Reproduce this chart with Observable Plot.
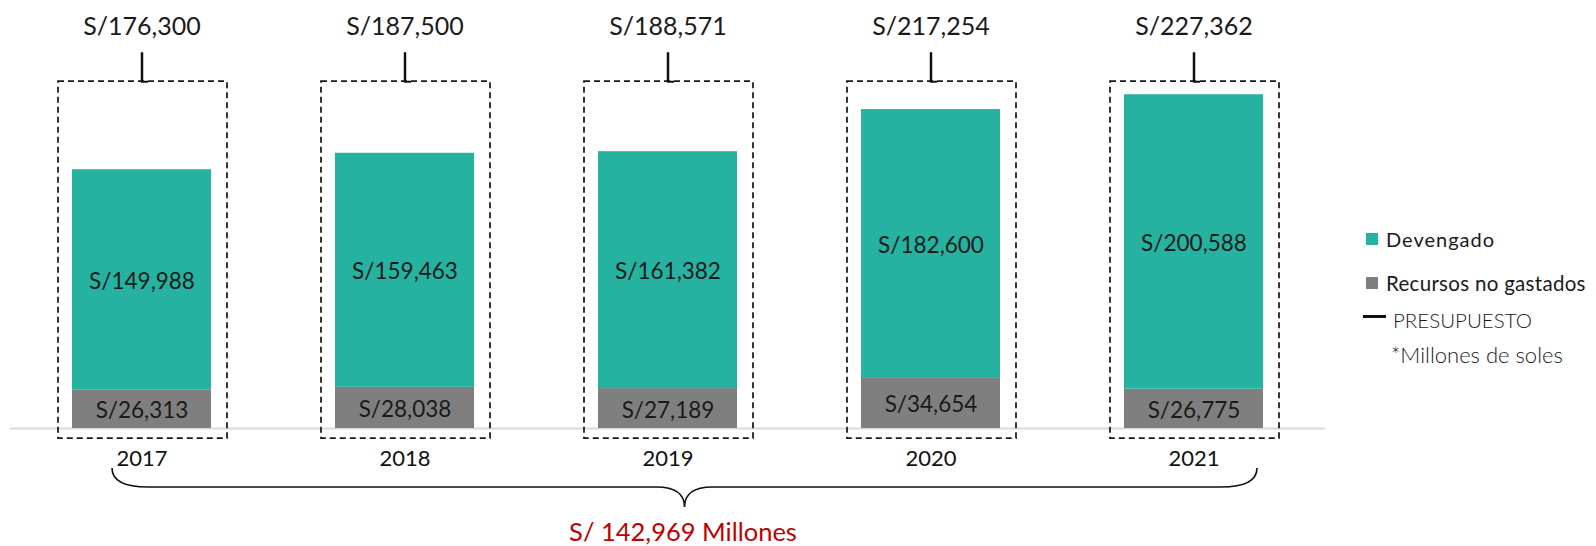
<!DOCTYPE html>
<html><head><meta charset="utf-8">
<script src="https://cdn.jsdelivr.net/npm/d3@7"></script>
<script src="https://cdn.jsdelivr.net/npm/@observablehq/plot@0.6"></script>
<style>
body{margin:0;background:#fff;}
#wrap{position:relative;width:1596px;height:546px;font-family:Lato,"Open Sans",sans-serif;color:#1a1a1a;}
.sw{position:absolute;width:12px;height:12px;}
.lt{position:absolute;white-space:nowrap;line-height:1;transform:translateY(-50%);}
</style></head><body><div id="wrap"></div>
<script>
const years = ["2017","2018","2019","2020","2021"];
const devengado = [149988,159463,161382,182600,200588];
const noGastado = [26313,28038,27189,34654,26775];
const presupuesto = [176300,187500,188571,217254,227362];
const seriesNames = ["Devengado","Recursos no gastados"];
const seriesColors = ["#25B2A1","#7F7F7F"];

const fmt = v => "S/" + d3.format(",")(v);
const rows = [];
years.forEach((yr,i)=>{
  rows.push({year:yr, serie:seriesNames[1], y1:0, y2:noGastado[i], value:noGastado[i]});
  rows.push({year:yr, serie:seriesNames[0], y1:noGastado[i], y2:noGastado[i]+devengado[i], value:devengado[i]});
});
const maxB = d3.max(presupuesto);
const budget = years.map((yr,i)=>({year:yr, value:presupuesto[i], top:maxB}));
const totalNoGastado = d3.sum(noGastado);

function brace(index, scales) {
  const x = scales.x, y = scales.y;
  const x0 = x(years[0]) + 102, x1 = x(years[years.length-1]) + 195;
  const xc = (x0 + x1) / 2;
  const ya = y(0) + 40, yh = y(0) + 59, yt = y(0) + 79;
  const p = d3.path();
  p.moveTo(x0, ya);
  p.quadraticCurveTo(x0, yh, x0 + 36, yh);
  p.lineTo(xc - 28, yh);
  p.quadraticCurveTo(xc, yh, xc, yt);
  p.quadraticCurveTo(xc, yh, xc + 28, yh);
  p.lineTo(x1 - 36, yh);
  p.quadraticCurveTo(x1, yh, x1, ya);
  return d3.create("svg:path").attr("d", p.toString()).attr("fill","none")
    .attr("stroke","#111").attr("stroke-width",1.6).node();
}

const plot = Plot.plot({
  width:1596, height:546,
  marginTop:61, marginBottom:118, marginLeft:10, marginRight:271,
  x:{domain:years, padding:0, axis:null},
  y:{domain:[0,250000], axis:null},
  color:{domain:seriesNames, range:seriesColors},
  style:{fontFamily:"Lato, 'Open Sans', sans-serif", background:"#fff"},
  marks:[
    Plot.ruleY([0],{stroke:"#D9D9D9", strokeWidth:2}),
    Plot.barY(rows,{x:"year", y1:"y1", y2:"y2", fill:"serie", insetLeft:62, insetRight:62}),
    Plot.barY(budget,{x:"year", y1:0, y2:"top", fill:"none", stroke:"#1a1a1a", strokeWidth:1.75,
      strokeDasharray:"6,4", insetLeft:48, insetRight:46, insetTop:-13, insetBottom:-10}),
    Plot.ruleX(budget,{x:"year", y1:"top", y2:"top", insetTop:-42, insetBottom:13, stroke:"#111", strokeWidth:2.5}),
    Plot.ruleY(budget,{x1:"year", x2:"year", y:"top", dy:-13, insetLeft:131, insetRight:125, stroke:"#111", strokeWidth:2}),
    Plot.text(budget,{x:"year", text:d=>fmt(d.value), frameAnchor:"top", lineAnchor:"middle", dy:-35, fontSize:25, fill:"#1a1a1a"}),
    Plot.text(rows,{x:"year", y:d=>(d.y1+d.y2)/2, text:d=>fmt(d.value), lineAnchor:"middle", fontSize:22.5, fill:"#1a1a1a", dy:2}),
    Plot.text(years,{x:d=>d, text:d=>d, frameAnchor:"bottom", lineAnchor:"middle", dy:30, fontSize:22, fill:"#111"}),
    brace,
    Plot.text([totalNoGastado],{text:d=>"S/ " + d3.format(",")(d) + " Millones", frameAnchor:"bottom", lineAnchor:"middle", dy:104, dx:15, fontSize:25.5, fill:"#C00000"})
  ]
});
const wrap = document.getElementById("wrap");
wrap.appendChild(plot);

const leg = [
  {html:`<div class="sw" style="left:1366px;top:233px;background:${seriesColors[0]}"></div><div class="lt" style="left:1386px;top:239px;font-size:20px;letter-spacing:1px">${seriesNames[0]}</div>`},
  {html:`<div class="sw" style="left:1366px;top:277px;background:${seriesColors[1]}"></div><div class="lt" style="left:1386px;top:283px;font-size:20.5px;letter-spacing:0.3px">${seriesNames[1]}</div>`},
  {html:`<div style="position:absolute;left:1363px;top:315px;width:23px;height:2.5px;background:#111"></div><div class="lt" style="left:1393px;top:320px;font-size:20.5px;font-weight:300">PRESUPUESTO</div>`},
  {html:`<div class="lt" style="left:1391px;top:355px;font-size:22px;font-weight:300">*Millones de soles</div>`}
];
leg.forEach(l => wrap.insertAdjacentHTML("beforeend", l.html));
</script>
</body></html>
